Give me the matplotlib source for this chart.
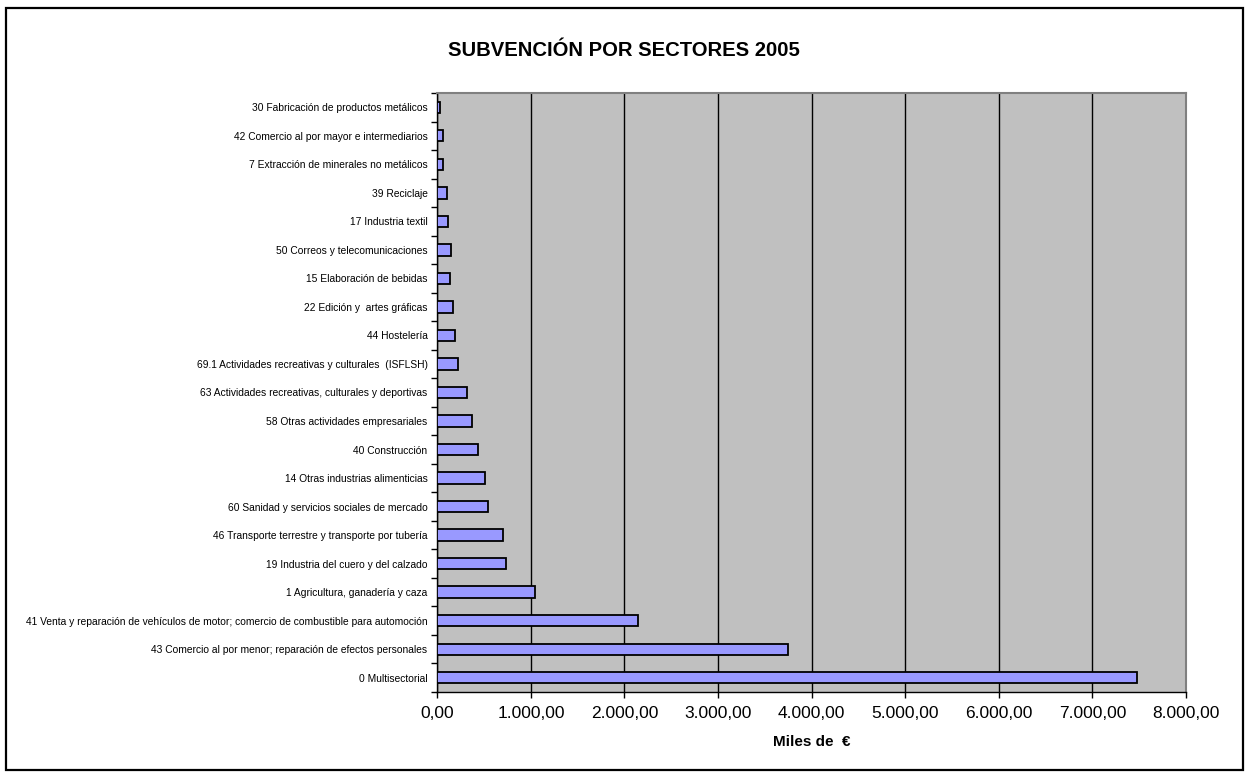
import matplotlib
matplotlib.use("Agg")
import matplotlib.pyplot as plt
from matplotlib.ticker import FuncFormatter, MultipleLocator, FixedLocator
from matplotlib.patches import Rectangle
import numpy as np

plt.rcParams['font.family'] = ['Liberation Sans', 'DejaVu Sans']

# bottom -> top
sectores = [
    "0 Multisectorial",
    "43 Comercio al por menor; reparación de efectos personales",
    "41 Venta y reparación de vehículos de motor; comercio de combustible para automoción",
    "1 Agricultura, ganadería y caza",
    "19 Industria del cuero y del calzado",
    "46 Transporte terrestre y transporte por tubería",
    "60 Sanidad y servicios sociales de mercado",
    "14 Otras industrias alimenticias",
    "40 Construcción",
    "58 Otras actividades empresariales",
    "63 Actividades recreativas, culturales y deportivas",
    "69.1 Actividades recreativas y culturales  (ISFLSH)",
    "44 Hostelería",
    "22 Edición y  artes gráficas",
    "15 Elaboración de bebidas",
    "50 Correos y telecomunicaciones",
    "17 Industria textil",
    "39 Reciclaje",
    "7 Extracción de minerales no metálicos",
    "42 Comercio al por mayor e intermediarios",
    "30 Fabricación de productos metálicos",
]
valores = [7472, 3744, 2147, 1043, 731, 706, 539, 511, 430, 369, 319, 225,
           188, 170, 141, 142, 114, 106, 64, 57, 29]

titulo = "SUBVENCIÓN POR SECTORES 2005"
eje_x = "Miles de  €"

fig = plt.figure(figsize=(12.46, 7.77), dpi=100)
ax = fig.add_axes([437.3/1246, 1-692/777, (1186-437.3)/1246, (692-93)/777])
ax.set_facecolor('#C0C0C0')

y = np.arange(len(sectores))
ax.barh(y, valores, height=0.4, color='#9999FF', edgecolor='black',
        linewidth=1.3, zorder=3)

ax.set_xlim(0, 8000)
ax.set_ylim(-0.5, len(sectores) - 0.5)
ax.xaxis.set_major_locator(MultipleLocator(1000))

def fmt(v, pos):
    s = f"{v:,.2f}"
    return s.replace(",", "X").replace(".", ",").replace("X", ".")
ax.xaxis.set_major_formatter(FuncFormatter(fmt))

ax.grid(axis='x', color='black', linewidth=1.0, zorder=1)
ax.set_yticks(y)
ax.set_yticklabels(sectores, fontsize=7.4)
ax.yaxis.set_minor_locator(FixedLocator(np.arange(-0.5, len(sectores), 1)))
ax.tick_params(axis='y', which='major', length=0, pad=7)
ax.tick_params(axis='y', which='minor', length=4, width=1, color='black', direction='out')
ax.tick_params(axis='x', which='major', length=4, width=1, direction='out',
               labelsize=12.5, pad=6)

for side in ['left', 'bottom']:
    ax.spines[side].set_color('black')
    ax.spines[side].set_linewidth(1.0)
for side in ['top', 'right']:
    ax.spines[side].set_color('#808080')
    ax.spines[side].set_linewidth(1.5)

ax.set_xlabel(eje_x, fontsize=11, fontweight='bold', labelpad=10)
fig.text(624/1246, 1-51/777, titulo, ha='center', va='center',
         fontsize=14.6, fontweight='bold')

fig.patches.append(Rectangle((6/1246, 1-770/777), (1243-6)/1246, (770-8)/777,
                             transform=fig.transFigure, fill=False,
                             edgecolor='black', linewidth=1.6))

fig.savefig("out.png", dpi=100)
